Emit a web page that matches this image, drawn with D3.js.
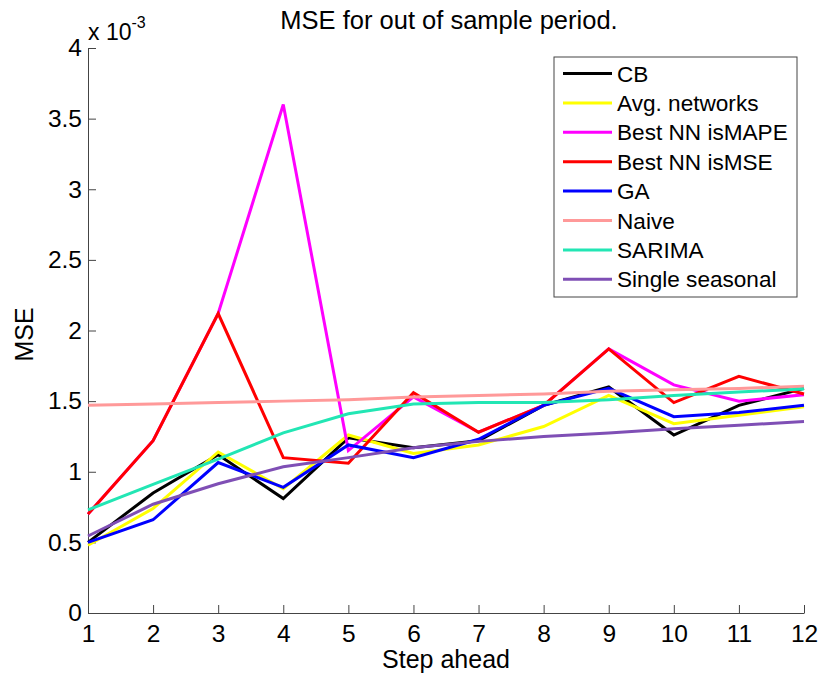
<!DOCTYPE html>
<html>
<head>
<meta charset="utf-8">
<script src="https://cdn.jsdelivr.net/npm/d3@7"></script>
<style>
body { margin: 0; background: #fff; }
text { font-family: "Liberation Sans", Arial, sans-serif; fill: #000; }
</style>
</head>
<body>
<div id="chart"></div>
<script>
var svgWidth = 822;
var svgHeight = 682;
var margin = {top: 48, right: 18, bottom: 69, left: 88};
var chartWidth = svgWidth - margin.left - margin.right;
var chartHeight = svgHeight - margin.top - margin.bottom;

// data (values in units of 1e-3)
var steps = [1, 2, 3, 4, 5, 6, 7, 8, 9, 10, 11, 12];
var cb        = [0.50, 0.85, 1.12, 0.81, 1.24, 1.17, 1.22, 1.47, 1.60, 1.26, 1.47, 1.59];
var avgNet    = [0.48, 0.74, 1.14, 0.88, 1.26, 1.13, 1.19, 1.32, 1.54, 1.34, 1.40, 1.46];
var bestMape  = [0.70, 1.22, 2.12, 3.60, 1.15, 1.53, 1.28, 1.47, 1.87, 1.615, 1.50, 1.545];
var bestMse   = [0.70, 1.22, 2.12, 1.10, 1.06, 1.56, 1.28, 1.47, 1.87, 1.49, 1.675, 1.55];
var ga        = [0.50, 0.66, 1.065, 0.89, 1.19, 1.10, 1.23, 1.47, 1.59, 1.39, 1.42, 1.47];
var naive     = [1.47, 1.48, 1.49, 1.50, 1.51, 1.53, 1.54, 1.55, 1.57, 1.58, 1.59, 1.605];
var sarima    = [0.73, 0.91, 1.09, 1.275, 1.41, 1.48, 1.49, 1.49, 1.51, 1.54, 1.565, 1.585];
var single    = [0.545, 0.77, 0.915, 1.035, 1.10, 1.17, 1.215, 1.25, 1.275, 1.305, 1.33, 1.355];

var seriesNames = ['CB', 'Avg. networks', 'Best NN isMAPE', 'Best NN isMSE', 'GA', 'Naive', 'SARIMA', 'Single seasonal'];
var seriesValues = [cb, avgNet, bestMape, bestMse, ga, naive, sarima, single];
var seriesColors = ['#000000', '#ffff00', '#ff00ff', '#ff0000', '#0000ff', '#ff9999', '#22e6b4', '#7f4fb5'];

var yTicks = [0, 0.5, 1, 1.5, 2, 2.5, 3, 3.5, 4];

var svg = d3.select('#chart').append('svg')
	.attr('width', svgWidth)
	.attr('height', svgHeight);
var chartGroup = svg.append('g')
	.attr('transform', `translate(${margin.left}, ${margin.top})`);

var xScale = d3.scaleLinear().domain([1, 12]).range([0, chartWidth]);
var yScale = d3.scaleLinear().domain([0, 4]).range([chartHeight, 0]);

// axes with inward ticks
var bottomAxis = d3.axisBottom(xScale).tickValues(steps).tickFormat(d3.format('d'))
	.tickSizeInner(-8).tickSizeOuter(0).tickPadding(12);
var leftAxis = d3.axisLeft(yScale).tickValues(yTicks).tickFormat(d => d)
	.tickSizeInner(-8).tickSizeOuter(0).tickPadding(6);

var xAxis = chartGroup.append('g')
	.attr('transform', `translate(0, ${chartHeight})`)
	.call(bottomAxis);
var yAxis = chartGroup.append('g')
	.call(leftAxis);

[xAxis, yAxis].forEach(function(ax) {
	ax.selectAll('path, line').attr('stroke', '#444').attr('stroke-width', 1);
	ax.selectAll('text').attr('font-size', '24.5px')
		.attr('font-family', '"Liberation Sans", Arial, sans-serif').attr('fill', '#000');
});
xAxis.selectAll('text').attr('dy', '0.71em');

// lines
var line = d3.line()
	.x((d, i) => xScale(steps[i]))
	.y(d => yScale(d));

chartGroup.append('g')
	.selectAll('path')
	.data(seriesValues)
	.enter()
	.append('path')
	.attr('d', d => line(d))
	.attr('fill', 'none')
	.attr('stroke', (d, i) => seriesColors[i])
	.attr('stroke-width', 3)
	.attr('stroke-linejoin', 'miter');

// title and labels
svg.append('text')
	.attr('x', margin.left + chartWidth / 2 + 3)
	.attr('y', 29)
	.attr('text-anchor', 'middle')
	.attr('font-size', '25.5px')
	.text('MSE for out of sample period.');

svg.append('text')
	.attr('x', margin.left + chartWidth / 2)
	.attr('y', 668)
	.attr('text-anchor', 'middle')
	.attr('font-size', '25px')
	.text('Step ahead');

svg.append('text')
	.attr('transform', `translate(33, ${margin.top + chartHeight / 2 + 4}) rotate(-90)`)
	.attr('text-anchor', 'middle')
	.attr('font-size', '25px')
	.text('MSE');

// exponent label
var expLabel = svg.append('text')
	.attr('x', 88)
	.attr('y', 40)
	.attr('font-size', '23px');
expLabel.append('tspan').text('x 10');
expLabel.append('tspan').attr('dy', -12).attr('font-size', '16px').text('-3');

// legend
var legend = svg.append('g').attr('transform', 'translate(554, 57)');
legend.append('rect')
	.attr('x', 0).attr('y', 0)
	.attr('width', 243).attr('height', 240)
	.attr('fill', '#fff')
	.attr('stroke', '#444')
	.attr('stroke-width', 1);

var rows = legend.selectAll('g.row')
	.data(seriesNames)
	.enter()
	.append('g')
	.attr('class', 'row')
	.attr('transform', (d, i) => `translate(0, ${16.5 + i * 29.4})`);
rows.append('line')
	.attr('x1', 9).attr('x2', 58)
	.attr('y1', 0).attr('y2', 0)
	.attr('stroke', (d, i) => seriesColors[i])
	.attr('stroke-width', 3);
rows.append('text')
	.attr('x', 63)
	.attr('y', 0)
	.attr('dy', '0.36em')
	.attr('font-size', '22.6px')
	.text(d => d);
</script>
</body>
</html>
